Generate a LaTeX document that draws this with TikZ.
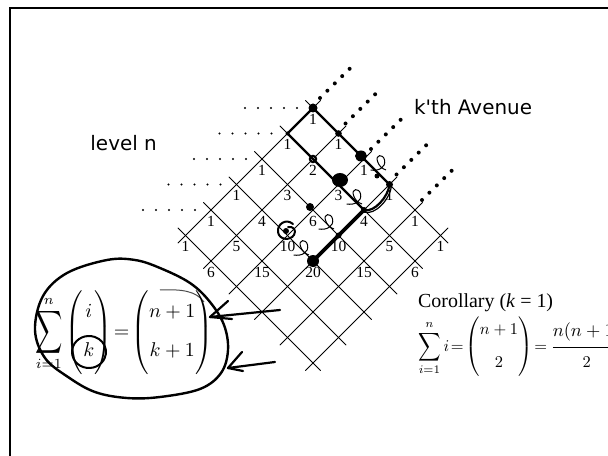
\documentclass[tikz,border=0pt]{standalone}
\usepackage{amsmath}
\usepackage{graphicx}
\usepackage{fontspec}
\setmainfont{Liberation Serif}
\newfontfamily\comicfont{DejaVu Sans}
\delimiterfactor=1000
\delimitershortfall=0pt
\newcommand{\bigsum}[1]{\mathop{\vcenter{\hbox{\scalebox{0.95}[#1]{$\displaystyle\sum$}}}}\limits}
\newcommand{\pbin}[4]{\left(\vcenter{\hbox{\rule{0pt}{#3}}}\begin{array}{@{}c@{}}#1\\[#4]#2\end{array}\right)}
\tikzset{
  gridline/.style={line width=0.75bp},
  num/.style={font=\fontsize{15.5}{16}\selectfont, inner sep=0pt},
  ink/.style={line width=2.2bp, line cap=round, line join=round},
  leafmark/.pic={\draw[line width=1bp] (-6,5) .. controls (0,6) and (5,3) .. (4,-2) .. controls (3,-7) and (-3,-6) .. (-1,-1) .. controls (0,2) and (2,4) .. (5,5);},
  handfont/.style={font=\comicfont\fontsize{20}{24}\selectfont, inner sep=0pt},
  serif/.style={font=\fontsize{20}{24}\selectfont, inner sep=0pt}
}
\begin{document}
\begin{tikzpicture}[x=1bp,y=-1bp]
\useasboundingbox (0,0) rectangle (608,456);
\fill[white] (0,0) rectangle (608,456);
% frame
\draw[line width=2bp] (10,470) -- (10,8) -- (620,8);

% grid
\begin{scope}[shift={(313,108)}, x={(-25.5bp,-25.5bp)}, y={(25.5bp,-25.5bp)}]
  \foreach \k in {0,...,5}{
    \draw[gridline] (\k,-0.3) -- (\k,5.3);
    \draw[gridline] (-0.3,\k) -- (5.3,\k);
  }
  \foreach \a in {0,...,5}{
    \foreach \b in {0,...,5}{
      \coordinate (v\a\b) at (\a,\b);
    }
  }
  \foreach \a/\b/\t in {0/0/1, 1/0/1, 0/1/1, 2/0/1, 1/1/2, 0/2/1, 3/0/1, 2/1/3, 1/2/3, 0/3/1,
      4/0/1, 3/1/4, 2/2/6, 1/3/4, 0/4/1, 5/0/1, 4/1/5, 3/2/10, 2/3/10, 1/4/5, 0/5/1,
      5/1/6, 4/2/15, 3/3/20, 2/4/15, 1/5/6}
    \node[num, yshift=-11bp] (n\a\b) at (\a,\b) {\t};
\end{scope}

% dotted level lines (left)
\foreach \ro in {0,...,4}{
  \foreach \i in {0,...,4}{
    \fill (v\ro0) ++({-16-13*\i},0) circle[radius=1.2];
  }
}
% dotted avenues (right)
\foreach \b in {0,...,4}{
  \foreach \i in {0,...,4}{
    \fill (v0\b) ++({7+7.4*\i},{-10-7.3*\i}) circle[radius=2];
  }
}

% handwritten paths
\draw[ink] (v00) -- (v01) -- (v02) -- (v03);
\draw[ink] (v03) .. controls +(-1,12) and +(10,3) .. (v13);
\draw[ink, line width=1.2bp] ([shift={(2,1)}]v03) .. controls +(-1,13) and +(11,4) .. ([shift={(0,2)}]v13);
\draw[ink, line width=3.6bp] (v13) -- (v33);
\draw[ink] (v00) -- (v10) -- (v11) -- (v12) -- (v13);

% dots and blobs
\fill (v00) circle[radius=4.5];
\fill (v01) circle[radius=3.3];
\fill (361,156) ellipse[x radius=6, y radius=5.5];
\fill (v03) circle[radius=3.5];
\fill (v10) circle[radius=2];
\draw[line width=2bp] (v11) circle[radius=3.2];
\fill (340,180) ellipse[x radius=8, y radius=7];
\fill (v13) circle[radius=3];
\fill (310,207) circle[radius=4];
\fill (v23) circle[radius=3];
\fill (v33) circle[radius=6];
\fill (377,176) circle[radius=2.5];
\fill (286,231) circle[radius=3];
\draw[ink, line width=2bp] (293,224) .. controls (286,218) and (277,224) .. (278,232) .. controls (279,240) and (290,241) .. (294,235) .. controls (297,230) and (293,226) .. (288,227);

% little marks
\foreach \p in {(379,163), (355,197), (327,222), (302,248)}
  \pic[scale=1.4] at \p {leafmark};

% loop round the formula
\draw[ink, line width=2.4bp] plot[smooth cycle, tension=0.6] coordinates {(35,330) (43,296) (67,273) (107,260) (135,260) (160,268) (190,283) (210,302) (224,325) (228,350) (221,373) (200,389) (160,397) (127,398) (95,392) (68,377) (45,358)};
\draw[line width=1bp, black!70] (160,290) .. controls (182,289) and (196,291) .. (204,302);
% circle round k
\draw[ink, line width=2bp] (89,352) ++(20:17 and 16) arc[start angle=20, end angle=385, x radius=17, y radius=16];

% arrows
\draw[ink] (280,310) -- (210,317);
\draw[ink] (228,301) -- (210,317) -- (232,319);
\draw[ink] (275,362) -- (228,368);
\draw[ink] (242,352) -- (228,368) -- (243,371);

% texts
\node[handfont, anchor=base east] (lvl) at (157,151) {level n};
\node[handfont, anchor=base west] (ave) at (414,115) {k'th Avenue};
\node[serif, anchor=base west] (cor) at (418,307) {Corollary (\textit{k} = 1)};

\node[anchor=base west, inner sep=0pt] (lf) at (35,337.5)
  {\scalebox{2}{\thickmuskip=2mu $\displaystyle \bigsum{1.5}_{i=1}^{n}\pbin{i}{k}{37pt}{7.5pt}=\pbin{n+1}{k+1}{37pt}{7.5pt}$}};
\node[anchor=base west, inner sep=0pt] (rf) at (418,351)
  {\scalebox{1.65}{\thickmuskip=2mu $\displaystyle \bigsum{1.2}_{i=1}^{n} i=\pbin{n+1}{2}{33pt}{8pt}=\mkern2mu\frac{\scalebox{1.12}{$n(n+1)$}\rule[-5pt]{0pt}{0pt}}{\rule{0pt}{11pt}2}$}};
\end{tikzpicture}
\end{document}
